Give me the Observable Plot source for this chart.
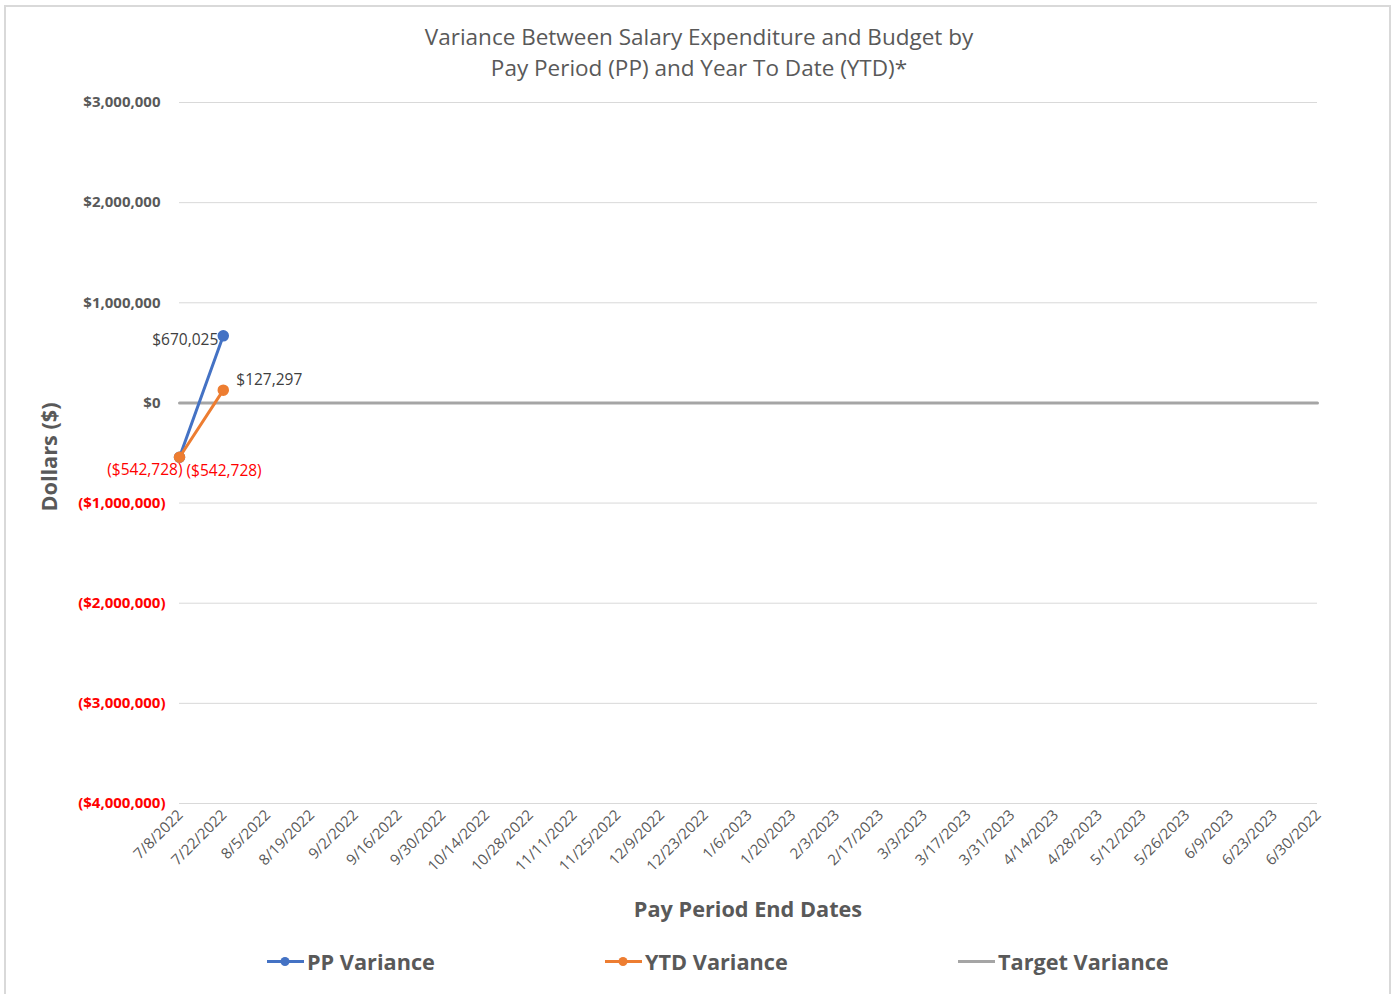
<!DOCTYPE html>
<html>
<head>
<meta charset="utf-8">
<script src="https://cdn.jsdelivr.net/npm/d3@7"></script>
<script src="https://cdn.jsdelivr.net/npm/@observablehq/plot@0.6"></script>
<style>
  html, body { margin: 0; padding: 0; background: #fff; }
  #wrap { position: relative; width: 1395px; height: 994px; overflow: hidden; font-family: "Open Sans", "Noto Sans", sans-serif; }
  #border { position: absolute; left: 4px; top: 5px; width: 1387px; height: 1000px; border: 2px solid #d9d9d9; box-sizing: border-box; }
  #title { position: absolute; left: 0; width: 1398px; top: 21px; text-align: center; color: #595959; font-size: 22.5px; line-height: 31px; }
  #chart { position: absolute; left: 0; top: 0; }
  #ylab { position: absolute; left: 48px; top: 457px; transform: translate(-50%, -50%) rotate(-90deg); color: #595959; font-weight: bold; font-size: 21.7px; white-space: nowrap; }
  #xlab { position: absolute; left: 748px; top: 908px; transform: translate(-50%, -50%); color: #595959; font-weight: bold; font-size: 21.7px; white-space: nowrap; }
  .leg { position: absolute; top: 961px; transform: translateY(-50%); display: flex; align-items: center; color: #595959; font-weight: bold; font-size: 21.7px; white-space: nowrap; }
  .leg svg { margin-right: 3px; }
</style>
</head>
<body>
<div id="wrap">
  <div id="border"></div>
  <div id="title">Variance Between Salary Expenditure and Budget by<br>Pay Period (PP) and Year To Date (YTD)*</div>
  <div id="chart"></div>
  <div id="ylab">Dollars ($)</div>
  <div id="xlab">Pay Period End Dates</div>
  <div id="legend"></div>
</div>
<script>
// Categories (pay period end dates)
const dates = ["7/8/2022","7/22/2022","8/5/2022","8/19/2022","9/2/2022","9/16/2022","9/30/2022","10/14/2022","10/28/2022","11/11/2022","11/25/2022","12/9/2022","12/23/2022","1/6/2023","1/20/2023","2/3/2023","2/17/2023","3/3/2023","3/17/2023","3/31/2023","4/14/2023","4/28/2023","5/12/2023","5/26/2023","6/9/2023","6/23/2023","6/30/2022"];
// Series values (only the first two pay periods reported)
const ppDates = ["7/8/2022","7/22/2022"];
const ppVariance = [-542728, 670025];
const ytdDates = ["7/8/2022","7/22/2022"];
const ytdVariance = [-542728, 127297];
const targetVariance = dates.map(() => 0);
// Y tick values
const yTicksPos = [3000000, 2000000, 1000000, 0];
const yTicksNeg = [-1000000, -2000000, -3000000, -4000000];
const seriesNames = ["PP Variance", "YTD Variance", "Target Variance"];
const seriesColors = ["#4472c4", "#ed7d31", "#a5a5a5"];

const fmt0 = d3.format("$,");
const fmt = v => v < 0 ? `(${fmt0(-v)})` : fmt0(v);

const pp = ppDates.map((d, i) => ({date: d, value: ppVariance[i]}));
const ytd = ytdDates.map((d, i) => ({date: d, value: ytdVariance[i]}));
const target = dates.map((d, i) => ({date: d, value: targetVariance[i]}));

const lblFont = {fontSize: 15.5, fontFamily: "'Open Sans', 'Noto Sans', sans-serif"};

const plot = Plot.plot({
  width: 1395,
  height: 994,
  marginLeft: 179,
  marginRight: 78,
  marginTop: 102,
  marginBottom: 191,
  style: {background: "transparent", fontFamily: "'Open Sans', 'Noto Sans', sans-serif"},
  x: {type: "point", domain: dates, padding: 0, round: false},
  y: {domain: [-4000000, 3000000]},
  marks: [
    Plot.gridY([...yTicksPos, ...yTicksNeg], {stroke: "#d9d9d9", strokeOpacity: 1, strokeWidth: 1}),
    Plot.axisY(yTicksPos, {tickSize: 0, tickPadding: 19, tickFormat: fmt, fill: "#595959", fontSize: 15, fontWeight: "bold", label: null}),
    Plot.axisY(yTicksNeg, {tickSize: 0, tickPadding: 14, tickFormat: fmt, fill: "#ff0000", fontSize: 15, fontWeight: "bold", label: null}),
    Plot.axisX(dates, {tickSize: 0, tickPadding: 9, tickRotate: -45, fill: "#595959", fontSize: 15, label: null, dx: 1}),
    Plot.line(target, {x: "date", y: "value", stroke: seriesColors[2], strokeWidth: 3}),
    Plot.line(pp, {x: "date", y: "value", stroke: seriesColors[0], strokeWidth: 3}),
    Plot.dot(pp, {x: "date", y: "value", r: 5, fill: seriesColors[0], stroke: seriesColors[0]}),
    Plot.line(ytd, {x: "date", y: "value", stroke: seriesColors[1], strokeWidth: 3}),
    Plot.dot(ytd, {x: "date", y: "value", r: 5, fill: seriesColors[1], stroke: seriesColors[1]}),
    // data labels
    Plot.text(pp, {filter: d => d.value < 0, x: "date", y: "value", text: d => fmt(d.value), fill: "#ff0000", textAnchor: "end", dx: 3, dy: 13, ...lblFont}),
    Plot.text(pp, {filter: d => d.value >= 0, x: "date", y: "value", text: d => fmt(d.value), fill: "#404040", textAnchor: "end", dx: -5, dy: 4, ...lblFont}),
    Plot.text(ytd, {filter: d => d.value < 0, x: "date", y: "value", text: d => fmt(d.value), fill: "#ff0000", textAnchor: "start", dx: 7, dy: 14, ...lblFont}),
    Plot.text(ytd, {filter: d => d.value >= 0, x: "date", y: "value", text: d => fmt(d.value), fill: "#404040", textAnchor: "start", dx: 13, dy: -10, ...lblFont})
  ]
});
document.getElementById("chart").appendChild(plot);

// Legend
const legendX = [267, 605, 958];
const legend = document.getElementById("legend");
seriesNames.forEach((name, i) => {
  const item = document.createElement("div");
  item.className = "leg";
  item.style.left = legendX[i] + "px";
  const marker = i < 2 ? `<circle cx="18" cy="8" r="4.5" fill="${seriesColors[i]}"/>` : "";
  item.innerHTML = `<svg width="37" height="16"><line x1="0" x2="37" y1="8" y2="8" stroke="${seriesColors[i]}" stroke-width="3"/>${marker}</svg><span>${name}</span>`;
  legend.appendChild(item);
});
</script>
</body>
</html>
